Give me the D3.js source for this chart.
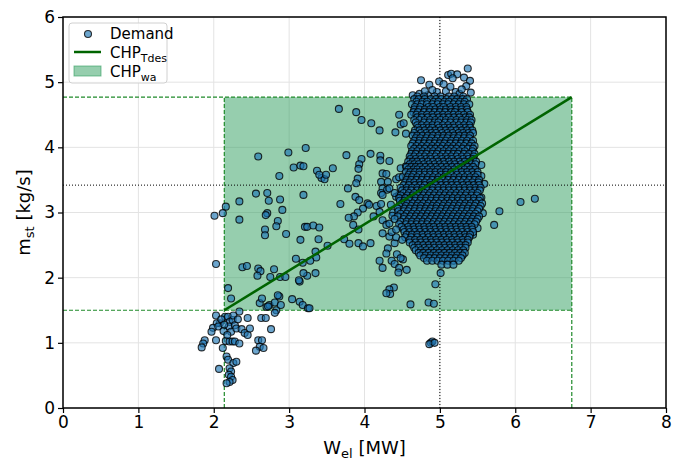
<!DOCTYPE html>
<html>
<head>
<meta charset="utf-8">
<script src="https://cdn.jsdelivr.net/npm/d3@7"></script>
<style>
  body { margin: 0; background: #fff; }
  svg { font-family: "DejaVu Sans", sans-serif; }
</style>
</head>
<body>
<svg id="chart" width="681" height="463"></svg>
<script>
var W = 681, H = 463;
var margin = {left: 63, right: 15, top: 17, bottom: 55};

// axis ticks
var xTicks = [0, 1, 2, 3, 4, 5, 6, 7, 8];
var yTicks = [0, 1, 2, 3, 4, 5, 6];

// CHP working area + design line
var chpW = [2.14, 6.75];
var chpM = [1.50, 4.77];
var refW = 5.0, refM = 3.42;

// scattered demand points [W_el, m_st]
var demandSparse = [
  [2.03,1.42],[2.08,1.30],[2.04,1.30],[1.99,1.23],[1.97,1.17],[1.88,1.04],[1.86,0.99],[1.84,0.93],
  [2.03,1.04],[2.15,1.40],[2.19,1.40],[2.21,1.32],[2.20,1.25],[2.25,1.35],[2.28,1.27],[2.23,1.17],
  [2.30,1.22],[2.34,1.48],[2.37,1.21],[2.41,1.15],[2.45,1.12],[2.48,1.22],[2.45,1.38],[2.16,1.03],
  [2.21,1.02],[2.25,1.02],[2.28,1.02],[2.34,0.99],[2.12,0.92],[2.17,0.79],[2.19,0.74],[2.26,0.69],
  [2.30,0.71],[2.21,0.61],[2.07,0.60],[2.23,0.56],[2.20,0.51],[2.23,0.48],[2.25,0.43],[2.21,0.40],
  [2.17,0.38],[2.59,1.04],[2.64,1.04],[2.61,0.94],[2.66,0.92],[2.56,0.88],[2.76,1.21],[2.63,1.38],
  [2.69,1.38],[2.61,1.61],[2.70,1.55],[2.74,1.58],[2.83,1.50],[2.81,1.46],[2.10,1.36],[2.06,1.25],
  [2.13,1.18],[2.18,1.12],[2.14,1.28],[2.26,1.42],[2.32,1.36],
  [2.19,1.84],[2.23,1.68],[2.64,1.68],[2.72,1.56],[2.81,1.62],[2.87,1.71],[2.85,1.73],[2.89,1.58],
  [3.04,1.67],[3.14,1.94],[3.14,1.63],[3.18,1.58],[3.25,1.53],[3.27,1.53],
  [2.59,3.86],[2.99,3.92],[3.22,3.99],[2.87,3.56],[3.06,3.69],[3.15,3.72],[3.19,3.71],[3.37,3.64],
  [3.43,3.53],[3.47,3.51],[3.49,3.58],[3.58,3.68],[2.56,3.29],[2.71,3.30],[2.73,3.18],[2.34,3.17],
  [2.16,3.09],[2.12,2.99],[2.01,2.95],[2.34,2.89],[2.88,3.20],[2.91,3.04],[2.71,2.99],[2.69,2.96],
  [2.85,2.87],[2.83,2.79],[2.68,2.74],[2.68,2.65],[2.96,2.67],[3.19,3.27],[3.21,2.78],[3.24,2.78],
  [3.32,2.80],[3.40,2.77],[3.15,2.58],[3.39,2.59],[3.51,2.49],[3.35,2.40],[3.36,2.31],[3.09,2.29],
  [3.18,2.23],[3.28,2.26],[2.03,2.21],[2.38,2.16],[2.44,2.18],[2.59,2.14],[2.62,2.10],[2.58,2.03],
  [2.80,2.13],[2.75,2.01],[2.88,2.01],[2.95,2.01],[3.24,2.03],[3.35,2.07],[3.13,1.96],
  [3.66,4.59],[3.89,4.54],[3.96,4.42],[4.09,4.37],[4.20,4.26],[4.46,4.50],[4.48,4.35],[4.52,4.37],
  [4.41,4.23],[4.55,4.21],[3.76,3.88],[4.08,3.90],[4.21,3.87],[4.21,3.80],[4.33,3.79],[3.96,3.82],
  [3.93,3.74],[3.92,3.67],[3.40,3.58],[3.78,3.37],[3.88,3.24],[3.93,3.19],[3.68,3.13],[4.04,3.14],
  [4.06,3.12],[3.98,3.06],[4.16,3.10],[4.22,3.13],[4.20,3.01],[4.12,2.94],[3.91,3.00],[3.86,2.94],
  [3.79,2.92],[3.85,2.81],[3.91,3.52],[3.89,3.45],[4.24,3.60],[4.29,3.59],[4.22,3.47],[4.31,3.47],
  [4.42,3.51],[4.46,3.54],[4.51,3.55],[4.24,3.37],[4.30,3.35],[4.33,3.37],[4.22,3.30],[4.24,3.27],
  [4.42,3.24],[4.46,3.27],[4.51,3.25],[4.48,3.68],[4.55,3.71],
  [3.92,2.74],[3.73,2.59],[3.80,2.52],[3.92,2.53],[3.98,2.48],[4.08,2.53],[3.19,2.07],
  [4.20,2.26],[4.24,2.15],[4.36,2.26],[4.40,2.21],[4.43,2.36],[4.51,2.28],[4.46,2.15],[4.45,2.08],
  [4.56,2.12],[4.39,1.85],[4.33,1.82],[4.34,1.75],[4.29,1.76],[4.61,1.59],
  [4.24,2.88],[4.29,2.81],[4.33,2.83],[4.24,2.68],[4.33,2.63],[4.40,2.53],[4.31,2.45],[4.29,2.37],
  [4.48,2.30],[5.01,2.07],[4.38,3.00],[4.35,3.12],[4.40,3.30],[4.37,2.95],[4.42,2.62],[4.36,2.70],
  [4.94,1.90],[4.85,1.62],[4.92,1.60],[4.88,1.00],[4.90,1.02],[4.86,0.98],[4.93,1.00],
  [4.75,5.03],[4.86,4.96],[4.99,5.01],[5.05,4.97],[5.11,5.11],[5.15,5.13],[5.23,5.12],[5.17,5.06],
  [5.32,5.07],[5.37,5.21],[5.40,5.02],[5.35,4.94],[5.41,4.84],[4.64,4.80],[4.73,4.82],[4.84,4.80],
  [4.96,4.85],[5.21,4.85],[5.26,4.82],[4.90,4.88],[5.08,4.86],[5.14,4.93],[5.29,4.89],[4.80,4.86],
  [5.55,3.73],[5.55,3.56],[5.59,3.44],[5.55,3.23],[5.57,2.99],[5.79,3.02],[6.07,3.16],[6.26,3.21],
  [5.72,2.81],[5.44,2.66],[5.50,2.76],[5.30,2.35]
];

// dense demand cluster, one row per m_st value: [m_st, W_el values...]
var demandCore = [
  [4.78, 4.70,4.79,4.93,5.01,5.12,5.19,5.31],
  [4.74, 4.66,4.72,4.80,4.88,4.95,5.02,5.09,5.16,5.23,5.30,5.36],
  [4.70, 4.69,4.77,4.83,4.92,4.98,5.06,5.12,5.20,5.27,5.33],
  [4.66, 4.63,4.70,4.76,4.83,4.90,4.97,5.04,5.11,5.18,5.25,5.32,5.39],
  [4.62, 4.67,4.74,4.85,4.91,5.00,5.05,5.14,5.21,5.28,5.35],
  [4.58, 4.66,4.73,4.80,4.87,4.94,5.01,5.08,5.15,5.22,5.29,5.36],
  [4.54, 4.65,4.71,4.79,4.86,4.93,5.00,5.07,5.15,5.20,5.29,5.37],
  [4.50, 4.62,4.69,4.76,4.83,4.90,4.97,5.04,5.11,5.18,5.25,5.32,5.40],
  [4.46, 4.70,4.76,4.84,4.91,4.99,5.05,5.12,5.19,5.26,5.34,5.39],
  [4.42, 4.66,4.73,4.80,4.87,4.94,5.01,5.08,5.15,5.22,5.29,5.36,5.42],
  [4.38, 4.68,4.79,4.86,4.93,4.98,5.07,5.14,5.22,5.28,5.35,5.41],
  [4.34, 4.70,4.76,4.83,4.90,4.97,5.04,5.11,5.18,5.25,5.32,5.39],
  [4.30, 4.71,4.78,4.85,4.90,4.99,5.06,5.13,5.19,5.27,5.34,5.40],
  [4.26, 4.67,4.73,4.80,4.87,4.94,5.01,5.08,5.15,5.22,5.29,5.36,5.43],
  [4.22, 4.66,4.75,4.82,4.89,4.95,5.03,5.10,5.17,5.25,5.31,5.38,5.44],
  [4.18, 4.64,4.70,4.77,4.84,4.91,4.98,5.05,5.12,5.19,5.26,5.33,5.40],
  [4.14, 4.68,4.74,4.82,4.89,4.97,5.04,5.10,5.18,5.24,5.32,5.39],
  [4.10, 4.66,4.73,4.80,4.87,4.94,5.01,5.08,5.15,5.22,5.29,5.36,5.44],
  [4.06, 4.64,4.72,4.79,4.86,4.93,5.00,5.06,5.14,5.21,5.28,5.35,5.42],
  [4.02, 4.62,4.69,4.76,4.83,4.90,4.97,5.04,5.11,5.18,5.25,5.32,5.40,5.46],
  [3.98, 4.66,4.73,4.80,4.88,4.94,5.01,5.09,5.15,5.22,5.30,5.37,5.44],
  [3.94, 4.63,4.70,4.77,4.84,4.91,4.98,5.05,5.12,5.19,5.26,5.33,5.43],
  [3.90, 4.62,4.68,4.76,4.82,4.90,4.96,5.04,5.11,5.18,5.24,5.32,5.39,5.46],
  [3.86, 4.60,4.66,4.73,4.80,4.87,4.94,5.01,5.08,5.15,5.22,5.29,5.36,5.45],
  [3.82, 4.61,4.68,4.75,4.82,4.88,4.96,5.03,5.10,5.16,5.24,5.31,5.38,5.44],
  [3.78, 4.58,4.64,4.70,4.77,4.84,4.91,4.98,5.05,5.12,5.19,5.26,5.33,5.40,5.48],
  [3.74, 4.60,4.66,4.72,4.79,4.86,4.93,5.00,5.06,5.14,5.20,5.28,5.35,5.42,5.47],
  [3.70, 4.56,4.62,4.68,4.74,4.81,4.88,4.95,5.02,5.09,5.16,5.23,5.30,5.37,5.44],
  [3.66, 4.58,4.65,4.70,4.77,4.84,4.91,4.97,5.05,5.11,5.19,5.25,5.33,5.40,5.47],
  [3.62, 4.55,4.61,4.67,4.73,4.80,4.87,4.94,5.01,5.08,5.15,5.22,5.29,5.36,5.43,5.50],
  [3.58, 4.59,4.65,4.73,4.80,4.87,4.94,5.02,5.08,5.15,5.23,5.30,5.37,5.45,5.50],
  [3.54, 4.57,4.63,4.70,4.77,4.84,4.91,4.98,5.05,5.12,5.19,5.26,5.33,5.40,5.47],
  [3.50, 4.56,4.62,4.69,4.76,4.83,4.90,4.97,5.04,5.11,5.18,5.25,5.32,5.39,5.46,5.52],
  [3.46, 4.54,4.60,4.66,4.73,4.80,4.87,4.94,5.01,5.08,5.15,5.22,5.29,5.36,5.43,5.51],
  [3.42, 4.52,4.59,4.67,4.74,4.80,4.88,4.95,5.02,5.09,5.16,5.23,5.31,5.38,5.45,5.52],
  [3.38, 4.48,4.56,4.63,4.70,4.77,4.84,4.91,4.98,5.05,5.12,5.19,5.26,5.33,5.40,5.47,5.54],
  [3.34, 4.50,4.56,4.62,4.70,4.76,4.84,4.90,4.98,5.05,5.12,5.19,5.26,5.33,5.40,5.47,5.53],
  [3.30, 4.52,4.59,4.66,4.73,4.80,4.87,4.94,5.01,5.08,5.15,5.22,5.29,5.36,5.43,5.50],
  [3.26, 4.48,4.57,4.64,4.71,4.78,4.85,4.92,4.99,5.06,5.13,5.20,5.27,5.34,5.42,5.49],
  [3.22, 4.46,4.54,4.61,4.68,4.75,4.82,4.89,4.96,5.03,5.10,5.17,5.24,5.31,5.38,5.45,5.53],
  [3.18, 4.47,4.53,4.60,4.67,4.74,4.81,4.88,4.95,5.02,5.10,5.16,5.24,5.30,5.38,5.45,5.52],
  [3.14, 4.50,4.57,4.64,4.71,4.78,4.85,4.92,4.99,5.06,5.13,5.20,5.27,5.34,5.41,5.48,5.56],
  [3.10, 4.46,4.55,4.62,4.69,4.75,4.83,4.90,4.96,5.04,5.11,5.18,5.25,5.32,5.39,5.46,5.54],
  [3.06, 4.44,4.53,4.60,4.67,4.74,4.81,4.88,4.95,5.02,5.09,5.16,5.23,5.30,5.37,5.44,5.52],
  [3.02, 4.45,4.52,4.58,4.66,4.73,4.80,4.86,4.94,5.00,5.08,5.14,5.22,5.29,5.36,5.43,5.50],
  [2.98, 4.48,4.56,4.63,4.70,4.77,4.84,4.91,4.98,5.05,5.12,5.19,5.26,5.33,5.40,5.47],
  [2.94, 4.44,4.53,4.61,4.68,4.75,4.82,4.89,4.96,5.03,5.10,5.17,5.24,5.31,5.38,5.45,5.52],
  [2.90, 4.40,4.52,4.59,4.66,4.73,4.80,4.87,4.94,5.01,5.08,5.15,5.22,5.29,5.36,5.43,5.50],
  [2.86, 4.48,4.56,4.63,4.70,4.77,4.84,4.92,4.99,5.06,5.13,5.20,5.27,5.34,5.41,5.48],
  [2.82, 4.46,4.55,4.62,4.69,4.76,4.83,4.90,4.97,5.04,5.11,5.18,5.25,5.32,5.39,5.46],
  [2.78, 4.49,4.58,4.65,4.72,4.79,4.86,4.92,5.00,5.07,5.14,5.21,5.28,5.35,5.42],
  [2.74, 4.42,4.52,4.59,4.66,4.73,4.80,4.87,4.94,5.01,5.08,5.15,5.22,5.29,5.36,5.43],
  [2.70, 4.53,4.60,4.67,4.74,4.81,4.88,4.95,5.02,5.09,5.16,5.23,5.30,5.37,5.44],
  [2.66, 4.56,4.63,4.70,4.77,4.84,4.91,4.98,5.05,5.12,5.19,5.26,5.33,5.40],
  [2.62, 4.54,4.62,4.70,4.78,4.85,4.92,4.99,5.06,5.13,5.20,5.27,5.34,5.39],
  [2.58, 4.50,4.60,4.67,4.74,4.81,4.88,4.95,5.02,5.09,5.16,5.23,5.30,5.37],
  [2.54, 4.60,4.68,4.75,4.82,4.89,4.96,5.03,5.10,5.17,5.24,5.31,5.37],
  [2.50, 4.64,4.71,4.78,4.85,4.92,4.99,5.06,5.13,5.20,5.27,5.34],
  [2.46, 4.66,4.72,4.80,4.86,4.93,5.00,5.07,5.14,5.21,5.28,5.34],
  [2.42, 4.68,4.75,4.82,4.89,4.96,5.03,5.10,5.17,5.24,5.31],
  [2.38, 4.72,4.78,4.85,4.92,4.99,5.06,5.13,5.20,5.27,5.33],
  [2.34, 4.74,4.81,4.88,4.95,5.02,5.09,5.16,5.23,5.30],
  [2.30, 4.79,4.86,4.93,5.00,5.07,5.14,5.21,5.28],
  [2.26, 4.83,4.90,4.97,5.04,5.11,5.18,5.25],
  [2.20, 5.02,5.10,5.18]
];

var svg = d3.select("#chart");
var x = d3.scaleLinear().domain([0, 8]).range([margin.left, W - margin.right]);
var y = d3.scaleLinear().domain([0, 6]).range([H - margin.bottom, margin.top]);

// grid
svg.append("g").selectAll("line").data(xTicks).join("line")
  .attr("x1", d => x(d)).attr("x2", d => x(d))
  .attr("y1", y(0)).attr("y2", y(6))
  .attr("stroke", "#e3e3e3").attr("stroke-width", 1);
svg.append("g").selectAll("line").data(yTicks).join("line")
  .attr("x1", x(0)).attr("x2", x(8))
  .attr("y1", d => y(d)).attr("y2", d => y(d))
  .attr("stroke", "#e3e3e3").attr("stroke-width", 1);

// working area
svg.append("rect")
  .attr("x", x(chpW[0])).attr("y", y(chpM[1]))
  .attr("width", x(chpW[1]) - x(chpW[0]))
  .attr("height", y(chpM[0]) - y(chpM[1]))
  .attr("fill", "#2e9e5e").attr("fill-opacity", 0.5);

// dashed limits
var dash = svg.append("g").attr("stroke", "#1f8a2a").attr("stroke-width", 1.2)
  .attr("stroke-dasharray", "4,2").attr("fill", "none");
chpM.forEach(function(m) {
  dash.append("line").attr("x1", x(0)).attr("x2", x(chpW[1])).attr("y1", y(m)).attr("y2", y(m));
});
chpW.forEach(function(w) {
  dash.append("line").attr("x1", x(w)).attr("x2", x(w)).attr("y1", y(0)).attr("y2", y(chpM[1]));
});

// dotted reference point lines
var dot = svg.append("g").attr("stroke", "#000").attr("stroke-width", 1)
  .attr("stroke-dasharray", "1,2");
dot.append("line").attr("x1", x(refW)).attr("x2", x(refW)).attr("y1", y(0)).attr("y2", y(6));
dot.append("line").attr("x1", x(0)).attr("x2", x(8)).attr("y1", y(refM)).attr("y2", y(refM));

// demand scatter
var pts = demandSparse.slice();
demandCore.forEach(function(row) {
  row.slice(1).forEach(function(w) { pts.push([w, row[0]]); });
});
svg.append("g").selectAll("circle").data(pts).join("circle")
  .attr("cx", d => x(d[0])).attr("cy", d => y(d[1])).attr("r", 3.5)
  .attr("fill", "#1f77b4").attr("fill-opacity", 0.65)
  .attr("stroke", "#000").attr("stroke-opacity", 0.8).attr("stroke-width", 1.1);

// design line
svg.append("line")
  .attr("x1", x(chpW[0])).attr("y1", y(chpM[0]))
  .attr("x2", x(chpW[1])).attr("y2", y(chpM[1]))
  .attr("stroke", "#006400").attr("stroke-width", 2.5);

// axes
var xAxis = d3.axisBottom(x).tickValues(xTicks).tickFormat(d3.format("d")).tickSize(5).tickPadding(3);
var yAxis = d3.axisLeft(y).tickValues(yTicks).tickFormat(d3.format("d")).tickSize(5).tickPadding(3);
var gx = svg.append("g").attr("transform", "translate(0," + y(0) + ")").call(xAxis);
var gy = svg.append("g").attr("transform", "translate(" + x(0) + ",0)").call(yAxis);
[gx, gy].forEach(function(g) {
  g.select(".domain").remove();
  g.selectAll(".tick line").attr("stroke", "#000").attr("stroke-width", 1.2);
  g.selectAll(".tick text").attr("font-size", 17).attr("fill", "#000")
    .attr("font-family", "DejaVu Sans");
});

// frame
svg.append("rect")
  .attr("x", x(0)).attr("y", y(6))
  .attr("width", x(8) - x(0)).attr("height", y(0) - y(6))
  .attr("fill", "none").attr("stroke", "#000").attr("stroke-width", 1.5);

// axis labels
var xl = svg.append("text").attr("x", x(4)).attr("y", 454)
  .attr("text-anchor", "middle").attr("font-size", 18);
xl.append("tspan").text("W");
xl.append("tspan").attr("font-size", 13).attr("dy", 4).text("el");
xl.append("tspan").attr("dy", -4).text(" [MW]");

var yl = svg.append("text")
  .attr("transform", "translate(30," + y(3) + ") rotate(-90)")
  .attr("text-anchor", "middle").attr("font-size", 18);
yl.append("tspan").text("m");
yl.append("tspan").attr("font-size", 13).attr("dy", 4).text("st");
yl.append("tspan").attr("dy", -4).text(" [kg/s]");

// legend
var lg = svg.append("g").attr("transform", "translate(69,23)");
lg.append("rect").attr("width", 98).attr("height", 60).attr("rx", 3)
  .attr("fill", "#fff").attr("fill-opacity", 0.8)
  .attr("stroke", "#d0d0d0").attr("stroke-width", 1);
lg.append("circle").attr("cx", 19).attr("cy", 11).attr("r", 3.5)
  .attr("fill", "#1f77b4").attr("fill-opacity", 0.65)
  .attr("stroke", "#000").attr("stroke-opacity", 0.8).attr("stroke-width", 1.1);
lg.append("line").attr("x1", 5).attr("x2", 32).attr("y1", 29).attr("y2", 29)
  .attr("stroke", "#006400").attr("stroke-width", 2.5);
lg.append("rect").attr("x", 5).attr("y", 43).attr("width", 27).attr("height", 10)
  .attr("fill", "#2e9e5e").attr("fill-opacity", 0.5)
  .attr("stroke", "#2e9e5e").attr("stroke-opacity", 0.6);

lg.append("text").attr("x", 41).attr("y", 16).attr("font-size", 15).text("Demand");
var t1 = lg.append("text").attr("x", 41).attr("y", 35).attr("font-size", 15);
t1.append("tspan").text("CHP");
t1.append("tspan").attr("font-size", 11).attr("dy", 4).text("Tdes");
var t2 = lg.append("text").attr("x", 41).attr("y", 54).attr("font-size", 15);
t2.append("tspan").text("CHP");
t2.append("tspan").attr("font-size", 11).attr("dy", 4).text("wa");
</script>
</body>
</html>
